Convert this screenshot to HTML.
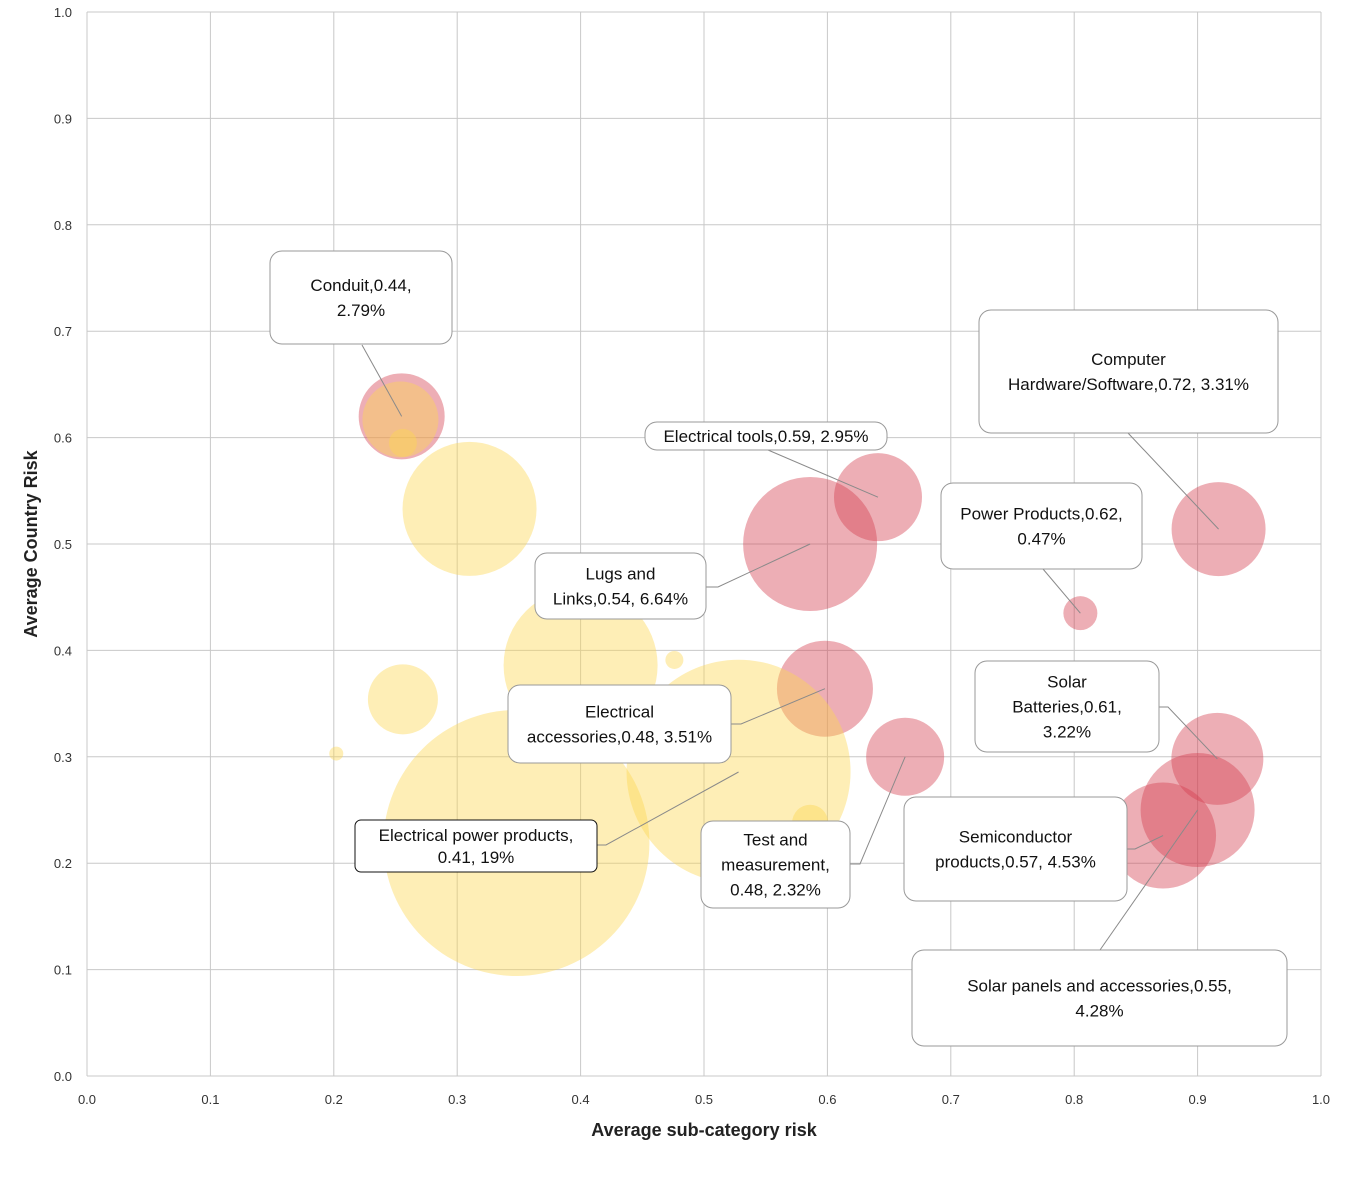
<!DOCTYPE html>
<html><head><meta charset="utf-8"><style>
html,body{margin:0;padding:0;background:#fff;}
svg{display:block;font-family:"Liberation Sans",sans-serif;}
</style></head><body>
<svg id="chart" width="1349" height="1177"></svg>
<script>
const redNames=["Conduit","Electrical tools","Lugs and Links","Computer Hardware/Software","Power Products","Electrical accessories","Test and measurement","Solar Batteries","Semiconductor products","Solar panels and accessories"];
const redX=[0.255,0.641,0.586,0.917,0.805,0.598,0.663,0.916,0.872,0.900];
const redY=[0.620,0.544,0.500,0.514,0.435,0.364,0.300,0.298,0.226,0.250];
const redR=[43,44,67,47,17,48,39,46,53,57];
const yelX=[0.254,0.256,0.310,0.400,0.476,0.256,0.202,0.348,0.528,0.586];
const yelY=[0.617,0.595,0.533,0.386,0.391,0.354,0.303,0.219,0.286,0.238];
const yelR=[38,14,67,77,9,35,7,133,112,18];
const ticks=[0,0.1,0.2,0.3,0.4,0.5,0.6,0.7,0.8,0.9,1.0];
const svg=document.getElementById('chart');
const NS="http://www.w3.org/2000/svg";
const X0=87,X1=1321,Y0=1076,Y1=12;
const sx=v=>X0+(X1-X0)*v, sy=v=>Y0-(Y0-Y1)*v;
function mk(t,a,p){const e=document.createElementNS(NS,t);for(const k in a)e.setAttribute(k,a[k]);(p||svg).appendChild(e);return e;}
ticks.forEach((t,i)=>{
  const gx=mk('line',{x1:sx(t),x2:sx(t),y1:Y1,y2:Y0,stroke:'#c8c8c8','stroke-width':1});
  
  
  const gy=mk('line',{x1:X0,x2:X1,y1:sy(t),y2:sy(t),stroke:'#c8c8c8','stroke-width':1});
  
  
  const tx=mk('text',{x:sx(t),y:1104,'text-anchor':'middle','font-size':13,fill:'#333'});tx.textContent=t.toFixed(1);
  
  
  const ty=mk('text',{x:72,y:sy(t)+5,'text-anchor':'end','font-size':13,fill:'#333'});ty.textContent=t.toFixed(1);
  
  
});
redX.forEach((v,i)=>{
  const c=mk('circle',{cx:sx(v),cy:sy(redY[i]),r:redR[i],fill:'rgba(212,62,78,0.42)'});
  
  
});
yelX.forEach((v,i)=>{
  const c=mk('circle',{cx:sx(v),cy:sy(yelY[i]),r:yelR[i],fill:'rgba(253,215,80,0.42)'});
  
  
});
const xt=mk('text',{x:704,y:1136,'text-anchor':'middle','font-size':18,'font-weight':'bold',fill:'#222'});xt.textContent='Average sub-category risk';


const yt=mk('text',{x:0,y:0,'text-anchor':'middle','font-size':18,'font-weight':'bold',fill:'#222',transform:'translate(37,544) rotate(-90)'});yt.textContent='Average Country Risk';


const ann=[
 [[270,251,452,344],["Conduit,0.44,","2.79%"],[[362,345]],0],
 [[645,422,887,450],["Electrical tools,0.59, 2.95%"],[[768,450]],1],
 [[535,553,706,619],["Lugs and","Links,0.54, 6.64%"],[[706,587],[718,587]],2],
 [[979,310,1278,433],["Computer","Hardware/Software,0.72, 3.31%"],[[1128,433]],3],
 [[941,483,1142,569],["Power Products,0.62,","0.47%"],[[1043,569]],4],
 [[508,685,731,763],["Electrical","accessories,0.48, 3.51%"],[[731,724],[741,724]],5],
 [[701,821,850,908],["Test and","measurement,","0.48, 2.32%"],[[850,864],[860,864]],6],
 [[975,661,1159,752],["Solar","Batteries,0.61,","3.22%"],[[1159,707],[1168,707]],7],
 [[904,797,1127,901],["Semiconductor","products,0.57, 4.53%"],[[1127,849],[1135,849]],8],
 [[912,950,1287,1046],["Solar panels and accessories,0.55,","4.28%"],[[1100,950]],9]
];
ann.forEach(a=>{
  const [b,lines,pts,idx]=a;
  const tgt=[sx(redX[idx]),sy(redY[idx])];
  const all=pts.concat([tgt]);
  const pl=mk('polyline',{points:all.map(p=>p.join(',')).join(' '),fill:'none',stroke:'#8a8a8a','stroke-width':1});
  
  
  const r=mk('rect',{x:b[0],y:b[1],width:b[2]-b[0],height:b[3]-b[1],rx:12,fill:'#fff',stroke:'#999','stroke-width':1});
  
  
  const cy=(b[1]+b[3])/2, lh=25, start=cy-(lines.length-1)*lh/2+6;
  lines.forEach((s,j)=>{
    const t=mk('text',{x:(b[0]+b[2])/2,y:start+j*lh,'text-anchor':'middle','font-size':17,fill:'#111'});t.textContent=s;
    
    
  });
});
const pp=[[597,845],[606,845],[sx(yelX[8]),772]];
const l2=mk('polyline',{points:pp.map(p=>p.join(',')).join(' '),fill:'none',stroke:'#8a8a8a','stroke-width':1});


const r2=mk('rect',{x:355,y:820,width:242,height:52,rx:6,fill:'#fff',stroke:'#111','stroke-width':1});


["Electrical power products,","0.41, 19%"].forEach((s,j)=>{
  const t=mk('text',{x:476,y:841+j*22,'text-anchor':'middle','font-size':17,fill:'#111'});t.textContent=s;
  
  
});
</script>
</body></html>
